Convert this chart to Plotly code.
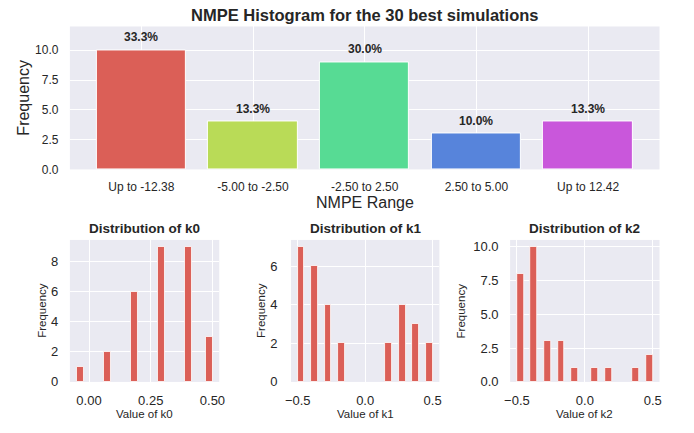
import plotly.graph_objects as go

# ---------------- data ----------------
categories = ["Up to -12.38", "-5.00 to -2.50", "-2.50 to 2.50", "2.50 to 5.00", "Up to 12.42"]
frequencies = [10, 4, 9, 3, 4]
n_sims = 30
bar_colors = ["#db5f57", "#b9db57", "#57db94", "#5784db", "#c957db"]

k0_bin_start = [-0.05, 0.06, 0.17, 0.28, 0.39, 0.4725]
k0_counts = [1, 2, 6, 9, 9, 3]
k0_bin_width = 0.0275

k1_bin_start = [-0.5, -0.4, -0.3, -0.2, 0.15, 0.25, 0.35, 0.45]
k1_counts = [7, 6, 4, 2, 2, 4, 3, 2]
k1_bin_width = 0.05

k2_bin_start = [-0.5, -0.4, -0.3, -0.2, -0.1, 0.05, 0.15, 0.35, 0.45]
k2_counts = [8, 10, 3, 3, 1, 1, 1, 1, 2]
k2_bin_width = 0.05

# ---------------- layout helpers ----------------
W, H = 694, 433
def fx(px):
    return px / W
def fy(px):
    return 1 - px / H

FONT = "Liberation Sans, Arial, sans-serif"
TXT = "#262626"
BG = "#eaeaf2"
HIST = "#db5f57"

fig = go.Figure()

# top bar chart
fig.add_trace(go.Bar(
    x=categories, y=frequencies, marker=dict(color=bar_colors, line=dict(color="white", width=1)),
    width=0.8, xaxis="x", yaxis="y", showlegend=False,
))
for c, f in zip(categories, frequencies):
    fig.add_annotation(x=c, y=f, xref="x", yref="y", text="<b>%.1f%%</b>" % (f / n_sims * 100),
                       showarrow=False, yanchor="bottom", yshift=4,
                       font=dict(family=FONT, size=12, color=TXT))

hists = [
    ("k0", k0_bin_start, k0_counts, k0_bin_width, "x2", "y2"),
    ("k1", k1_bin_start, k1_counts, k1_bin_width, "x3", "y3"),
    ("k2", k2_bin_start, k2_counts, k2_bin_width, "x4", "y4"),
]
for name, starts, counts, w, xa, ya in hists:
    fig.add_trace(go.Bar(
        x=starts, y=counts, width=w, offset=0,
        marker=dict(color=HIST, line=dict(color="white", width=0.8)),
        xaxis=xa, yaxis=ya, showlegend=False,
    ))

def xr(starts, w):
    lo, hi = min(starts), max(starts) + w
    m = 0.05 * (hi - lo)
    return [lo - m, hi + m]

def yr(counts):
    return [0, max(counts) * 1.05]

common = dict(showgrid=True, gridcolor="white", gridwidth=1, zeroline=False, showline=False,
              ticks="outside", tickcolor="rgba(0,0,0,0)",
              tickfont=dict(family=FONT, size=12, color=TXT))

top_dom_x = [fx(65), fx(665)]
top_dom_y = [fy(172), fy(26)]
bot_dom_y = [fy(389), fy(244)]
dom_k0 = [fx(65), fx(217)]
dom_k1 = [fx(290), fx(441)]
dom_k2 = [fx(513), fx(665)]

bot_tick = dict(family=FONT, size=13, color=TXT)

fig.update_layout(
    width=W, height=H, margin=dict(l=0, r=0, t=0, b=0),
    paper_bgcolor="white", plot_bgcolor=BG,
    font=dict(family=FONT, color=TXT),
    bargap=0,
    xaxis=dict(domain=top_dom_x, anchor="y", range=[-0.64, 4.64], ticklen=6, **common),
    yaxis=dict(domain=top_dom_y, anchor="x", range=[0, 12], tickvals=[0, 2.5, 5, 7.5, 10],
               tickformat=".1f", ticklen=8, **common),
    xaxis2=dict(domain=dom_k0, anchor="y2", range=xr(k0_bin_start, k0_bin_width),
                tickvals=[0, 0.25, 0.5], tickformat=".2f", ticklen=6,
                **{**common, "tickfont": bot_tick}),
    yaxis2=dict(domain=bot_dom_y, anchor="x2", range=yr(k0_counts), tickvals=[0, 2, 4, 6, 8],
                ticklen=8, **{**common, "tickfont": bot_tick}),
    xaxis3=dict(domain=dom_k1, anchor="y3", range=xr(k1_bin_start, k1_bin_width),
                tickvals=[-0.5, 0, 0.5], tickformat=".1f", ticklen=6,
                **{**common, "tickfont": bot_tick}),
    yaxis3=dict(domain=bot_dom_y, anchor="x3", range=yr(k1_counts), tickvals=[0, 2, 4, 6],
                ticklen=10, **{**common, "tickfont": bot_tick}),
    xaxis4=dict(domain=dom_k2, anchor="y4", range=xr(k2_bin_start, k2_bin_width),
                tickvals=[-0.5, 0, 0.5], tickformat=".1f", ticklen=6,
                **{**common, "tickfont": bot_tick}),
    yaxis4=dict(domain=bot_dom_y, anchor="x4", range=yr(k2_counts), tickvals=[0, 2.5, 5, 7.5, 10],
                tickformat=".1f", ticklen=8, **{**common, "tickfont": bot_tick}),
)

def ann(text, x, y, size, bold=False, angle=0, color=TXT):
    fig.add_annotation(text=("<b>%s</b>" % text) if bold else text, x=fx(x), y=fy(y),
                       xref="paper", yref="paper", showarrow=False, textangle=angle,
                       xanchor="center", yanchor="middle",
                       font=dict(family=FONT, size=size, color=color))

# titles
ann("NMPE Histogram for the 30 best simulations", 365, 14, 16.5, bold=True)
ann("Frequency", 18, 99, 16, angle=-90)
ann("NMPE Range", 365, 206, 16)

ann("Distribution of k0", 141, 232, 13.5, bold=True)
ann("Distribution of k1", 365.5, 232, 13.5, bold=True)
ann("Distribution of k2", 589, 232, 13.5, bold=True)

ann("Value of k0", 141, 422, 11.5)
ann("Value of k1", 365.5, 422, 11.5)
ann("Value of k2", 589, 422, 11.5)

ann("Frequency", 37, 316, 11.5, angle=-90)
ann("Frequency", 260, 316, 11.5, angle=-90)
ann("Frequency", 463, 316, 11.5, angle=-90)

fig.write_html("out.html")
